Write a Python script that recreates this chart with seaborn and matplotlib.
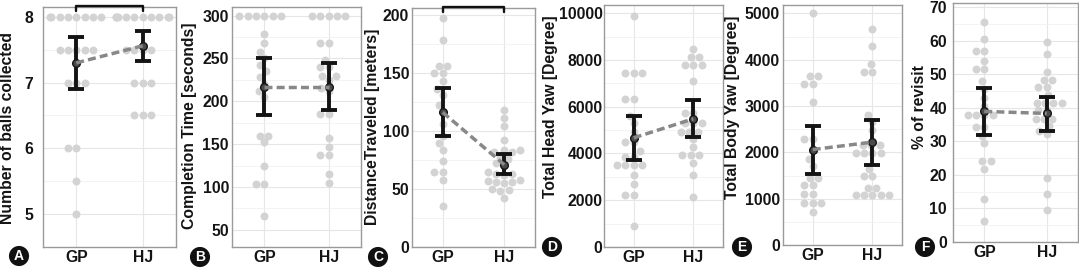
import numpy as np
import pandas as pd
import matplotlib
matplotlib.use("Agg")
import matplotlib.pyplot as plt
import matplotlib.transforms as mtransforms
import seaborn as sns

groups = ["GP", "HJ"]
letters = ["A", "B", "C", "D", "E", "F"]
ylabels = ["Number of balls collected", "Completion Time [seconds]",
           "DistanceTraveled [meters]", "Total Head Yaw [Degree]",
           "Total Body Yaw [Degree]", "% of revisit"]

# A - balls collected
balls_gp = [8, 8, 8, 8, 8, 8, 8, 8, 7.5, 7.5, 7.5, 7.5, 7.5, 7, 7, 7, 6, 6, 5.5, 5]
balls_hj = [8, 8, 8, 8, 8, 8, 8, 8, 8, 8, 7.5, 7.5, 7.5, 7.5, 7, 7, 7, 6.5, 6.5, 6.5]
balls_mean = [7.30, 7.56]
balls_lo = [6.90, 7.33]
balls_hi = [7.69, 7.79]

# B - completion time
time_gp = [300, 300, 300, 300, 300, 300, 278, 268, 258, 250, 242, 235, 228, 220,
           212, 205, 160, 160, 152, 125, 103, 103, 66]
time_hj = [300, 300, 300, 300, 300, 268, 268, 248, 240, 240, 230, 230, 225, 215,
           212, 185, 185, 157, 147, 137, 137, 115, 105]
time_mean = [217, 217]
time_lo = [184, 190]
time_hi = [251, 245]

# C - distance traveled
dist_gp = [197, 178, 156, 156, 150, 150, 143, 136, 131, 122, 116, 106, 96, 90, 84,
           74, 65, 65, 58, 35]
dist_hj = [118, 111, 104, 92, 84, 84, 82, 82, 78, 76, 72, 70, 65, 63, 63, 62, 58,
           57, 56, 56, 55, 50, 49, 48, 42]
dist_mean = [116, 71]
dist_lo = [96, 63]
dist_hi = [137, 80]

# D - head yaw
head_gp = [9900, 7460, 7460, 7460, 6340, 6340, 5600, 5300, 4900, 4500, 4500, 4100,
           3860, 3860, 3500, 3500, 3500, 3500, 3070, 2710, 2240, 2240, 890]
head_hj = [8460, 8110, 8110, 7790, 7790, 7790, 7100, 5710, 5710, 5290, 5290, 5290,
           4930, 4930, 4930, 4640, 4290, 3930, 3930, 3930, 3610, 3100, 2140]
head_mean = [4670, 5480]
head_lo = [3710, 4690]
head_hi = [5610, 6270]

# E - body yaw
body_gp = [5000, 3640, 3640, 3480, 3480, 3090, 2280, 2280, 2080, 1850, 1700, 1450,
           1450, 1290, 1290, 1110, 1110, 900, 900, 900, 710]
body_hj = [4660, 4290, 3910, 3740, 3740, 2810, 2660, 2480, 2160, 2160, 2160, 1990,
           1990, 1990, 1990, 1640, 1480, 1480, 1230, 1230, 1080, 1080, 1080, 1080, 1080]
body_mean = [2060, 2220]
body_lo = [1540, 1730]
body_hi = [2570, 2700]

# F - % of revisit
rev_gp = [65.4, 60.4, 57, 57, 54, 51.5, 51.5, 48, 45.7, 43, 40.5, 37.9, 37.9, 37.9,
          37.9, 34.2, 34.2, 31.7, 29.4, 24, 24, 21.7, 12.7, 6.4]
rev_hj = [59.7, 55.9, 50.7, 48.4, 48.4, 46.2, 46.2, 43.7, 41.5, 41.5, 41.5, 41.5,
          39.2, 39.2, 36.7, 36.7, 36.5, 34.5, 33, 32.2, 19, 14.4, 9.4]
rev_mean = [38.9, 38.3]
rev_lo = [31.9, 33.1]
rev_hi = [45.8, 43.3]

y_limits = [(4.5, 8.15), (30, 310), (0, 206), (0, 10350), (0, 5180), (0, 71.2)]
y_ticks = [[5, 6, 7, 8], [50, 100, 150, 200, 250, 300], [0, 50, 100, 150, 200],
           [0, 2000, 4000, 6000, 8000, 10000], [0, 1000, 2000, 3000, 4000, 5000],
           [0, 10, 20, 30, 40, 50, 60, 70]]
y_minor = [[4.5, 5.5, 6.5, 7.5], [75, 125, 175, 225, 275], [25, 75, 125, 175],
           [1000, 3000, 5000, 7000, 9000], [500, 1500, 2500, 3500, 4500],
           [5, 15, 25, 35, 45, 55, 65]]
significant = [True, False, True, False, False, False]

panels = [
    (balls_gp, balls_hj, balls_mean, balls_lo, balls_hi),
    (time_gp, time_hj, time_mean, time_lo, time_hi),
    (dist_gp, dist_hj, dist_mean, dist_lo, dist_hi),
    (head_gp, head_hj, head_mean, head_lo, head_hi),
    (body_gp, body_hj, body_mean, body_lo, body_hi),
    (rev_gp, rev_hj, rev_mean, rev_lo, rev_hi),
]

# layout in pixels: axes box (left, right, top, bottom), ylabel centre, tick pad, letter centre
W, H = 1079, 267
boxes = [(43, 176, 7, 247), (232, 361, 7, 247), (412, 535, 8, 247),
         (604, 723, 5, 247), (783, 902, 5, 245), (953, 1078, 3, 242)]
label_pos = [(8, 128), (190, 126), (372, 127), (550, 107), (732, 107), (919, 107)]
tick_pads = [7.0, 2.2, 2.0, 1.0, 2.2, 4.3]
letter_pos = [(19, 256), (200, 257), (378, 257), (552, 247), (742, 247), (925, 247)]

sns.set_theme(style="whitegrid")
plt.rcParams["font.family"] = ["Liberation Sans", "DejaVu Sans"]
plt.rcParams["font.weight"] = "bold"

fig = plt.figure(figsize=(W / 100, H / 100), dpi=100)

for i, (gp, hj, mean, lo, hi) in enumerate(panels):
    l, r, t, b = boxes[i]
    ax = fig.add_axes([l / W, 1 - b / H, (r - l) / W, (b - t) / H])

    df = pd.DataFrame({"group": ["GP"] * len(gp) + ["HJ"] * len(hj),
                       "value": gp + hj})
    sns.swarmplot(data=df, x="group", y="value", order=groups, color="#d3d3d3",
                  size=5.7, warn_thresh=1, ax=ax, zorder=1)

    xs = np.arange(len(groups))
    mean = np.array(mean)
    ax.errorbar(xs, mean, yerr=[mean - np.array(lo), np.array(hi) - mean],
                fmt="o", color="#141414", ms=5.5, mfc="#4a4a4a", mec="#141414",
                elinewidth=2.8, capsize=5.5, capthick=2.8, zorder=3)
    ax.plot(xs, mean, ls=(0, (2.3, 1.2)), color="#888888", lw=2.5, zorder=4)

    ax.set_xlim(-0.5, 1.5)
    ax.set_ylim(y_limits[i])
    ax.set_yticks(y_ticks[i])
    ax.set_yticks(y_minor[i], minor=True)
    ax.grid(True, which="major", color="#e6e6e6", lw=0.8)
    ax.grid(True, which="minor", axis="y", color="#f1f1f1", lw=0.6)
    ax.xaxis.grid(True)
    ax.set_axisbelow(True)
    ax.set_xlabel("")
    ax.tick_params(axis="both", which="both", length=0, labelsize=11.3,
                   labelcolor="#141414")
    ax.tick_params(axis="y", pad=tick_pads[i])
    ax.tick_params(axis="x", pad=2)
    for s in ax.spines.values():
        s.set_color("#9a9a9a")
        s.set_linewidth(1.0)

    ax.set_ylabel(ylabels[i], fontsize=11.3, fontweight="bold", color="#141414")
    lx, ly = label_pos[i]
    ax.yaxis.set_label_coords((lx - l) / (r - l), (b - ly) / (b - t))
    ax.yaxis.label.set_verticalalignment("center")

    if significant[i]:
        trans = mtransforms.blended_transform_factory(ax.transData, ax.transAxes)
        ax.plot([0, 0, 1, 1], [0.982, 1.004, 1.004, 0.982], transform=trans,
                color="#111111", lw=1.7, clip_on=False, zorder=5)

    px, py = letter_pos[i]
    fig.text(px / W, 1 - py / H, letters[i], ha="center", va="center",
             color="white", fontsize=10, fontweight="bold",
             bbox=dict(boxstyle="circle,pad=0.22", fc="#111111", ec="none"))

fig.savefig("out.png", dpi=100)
